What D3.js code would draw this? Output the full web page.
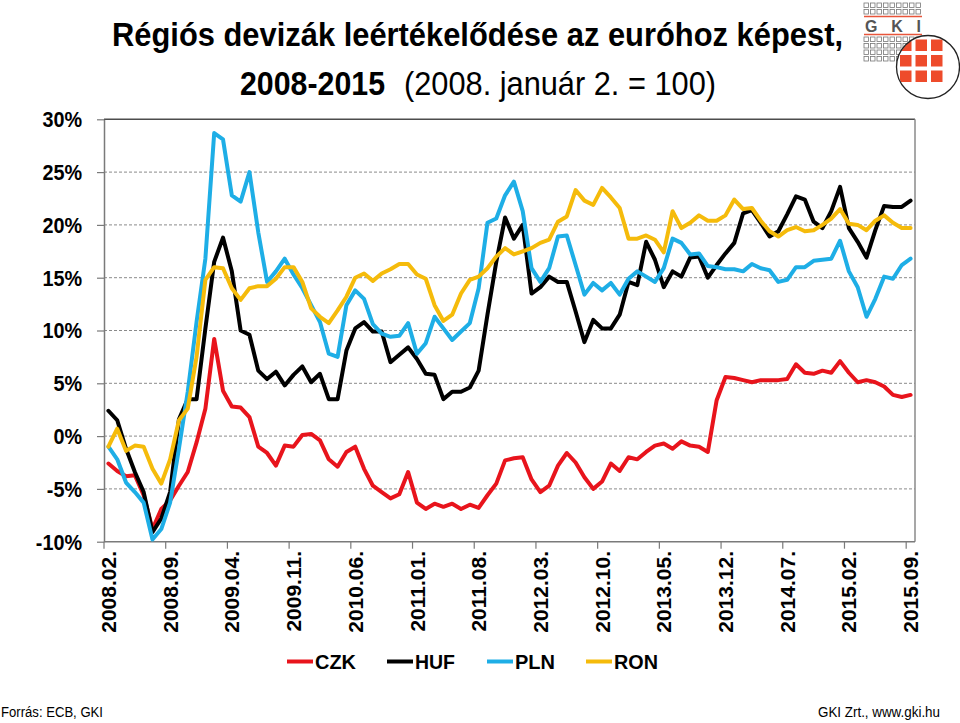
<!DOCTYPE html>
<html><head><meta charset="utf-8">
<script src="https://cdn.jsdelivr.net/npm/d3@7"></script>
<style>body{margin:0;background:#fff} svg{display:block}</style>
</head><body>
<svg id="c" width="960" height="723"></svg>
<script>
const tickLabels = ["2008.02.","2008.09.","2009.04.","2009.11.","2010.06.","2011.01.","2011.08.","2012.03.","2012.10.","2013.05.","2013.12.","2014.07.","2015.02.","2015.09."];
const months = [];
for (let yy = 2008, mm = 2; yy < 2015 || (yy === 2015 && mm <= 9);) {
  months.push(yy + "." + String(mm).padStart(2, "0") + ".");
  mm++; if (mm > 12) { mm = 1; yy++; }
}
const czk = [-2.6,-3.3,-3.8,-3.7,-5.6,-8.8,-6.9,-6.1,-4.7,-3.4,-0.6,2.6,9.2,4.3,2.8,2.7,
  1.8,-1.0,-1.6,-2.8,-0.9,-1.0,0.1,0.2,-0.4,-2.2,-2.9,-1.5,-1.0,-3.1,-4.7,
  -5.3,-5.9,-5.5,-3.4,-6.3,-6.9,-6.4,-6.7,-6.4,-6.9,-6.5,-6.8,-5.6,-4.5,-2.3,-2.1,
  -2.0,-4.1,-5.3,-4.7,-2.8,-1.6,-2.5,-3.9,-5.0,-4.3,-2.6,-3.3,-2.0,-2.2,-1.5,
  -0.9,-0.7,-1.2,-0.5,-0.9,-1.0,-1.5,3.4,5.6,5.5,5.3,5.1,5.3,5.3,5.3,5.4,
  6.8,6.0,5.9,6.2,6.0,7.1,6.0,5.1,5.3,5.1,4.7,3.9,3.7,3.9];
const huf = [2.4,1.5,-1.2,-3.4,-5.3,-9.1,-7.8,-5.3,1.6,3.5,3.5,10.2,16.5,18.8,15.6,10.0,
  9.6,6.2,5.4,6.1,4.8,5.8,6.6,5.1,5.9,3.5,3.5,8.1,10.2,10.8,9.9,
  9.9,7.0,7.7,8.4,7.3,5.9,5.8,3.5,4.2,4.2,4.6,6.2,11.5,16.5,20.7,18.7,
  20.0,13.5,14.1,15.1,14.6,14.6,11.8,8.9,11.0,10.2,10.2,11.5,14.6,14.3,18.4,
  16.7,14.1,15.6,15.1,16.9,17.0,15.0,16.2,17.3,18.3,21.1,21.4,20.2,18.9,19.4,21.0,
  22.7,22.4,20.3,19.7,21.3,23.6,19.7,18.4,16.9,19.5,21.8,21.7,21.7,22.3];
const pln = [-1.0,-2.2,-4.4,-5.3,-6.3,-9.8,-8.8,-6.3,-1.2,4.2,10.8,16.8,28.7,28.1,22.8,22.2,
  25.0,19.3,14.6,15.6,16.8,15.3,14.0,12.4,10.8,7.8,7.5,12.4,13.8,13.0,10.6,
  9.7,9.4,9.5,10.7,7.8,8.8,11.3,10.2,9.1,9.9,10.7,14.0,20.2,20.6,22.8,24.1,
  21.3,15.9,14.6,15.9,18.9,19.0,16.2,13.4,14.5,13.8,14.5,13.4,14.9,15.6,15.1,
  14.6,15.9,18.7,18.3,17.2,17.3,16.1,16.0,15.8,15.8,15.6,16.3,15.9,15.7,14.6,14.8,
  16.0,16.0,16.6,16.7,16.8,18.5,15.6,14.1,11.3,13.0,15.1,14.9,16.2,16.8];
const ron = [-1.0,0.7,-1.4,-0.9,-1.0,-3.1,-4.5,-2.2,1.5,2.6,7.5,14.8,16.0,15.9,14.0,12.9,
  14.0,14.2,14.2,14.9,16.0,16.0,14.6,12.1,11.3,10.7,11.9,13.2,15.0,15.4,14.7,
  15.4,15.8,16.3,16.3,15.3,14.9,12.4,10.9,11.5,13.5,14.8,15.1,15.9,17.0,17.8,17.2,
  17.5,17.8,18.3,18.6,20.3,20.8,23.3,22.3,21.9,23.5,22.6,21.6,18.7,18.7,19.0,
  18.6,17.4,21.3,19.7,20.2,20.9,20.4,20.4,20.9,22.4,21.5,21.6,20.4,19.4,18.9,19.5,
  19.8,19.4,19.5,20.0,20.6,21.5,20.1,20.0,19.5,20.4,20.9,20.2,19.7,19.7];
const seriesNames = ["CZK","HUF","PLN","RON"];
const seriesValues = [czk, huf, pln, ron];
const seriesColors = ["#e8141c","#000000","#1eaee6","#f5bb0b"];
const yTicks = [-10,-5,0,5,10,15,20,25,30];

const svg = d3.select("#c");
svg.append("rect").attr("width",960).attr("height",723).attr("fill","#fff");

const L = 104, R = 915, T = 119.3, B = 541.7;
const x = d3.scaleBand().domain(months).range([L, R]).paddingInner(0).paddingOuter(0);
const bw = x.bandwidth();
const y = d3.scaleLinear().domain([-10, 30]).range([B, T]);

// gridlines
svg.append("g").selectAll("line").data(yTicks.filter(v => v > -10 && v < 30)).join("line")
  .attr("x1", L).attr("x2", R).attr("y1", d => y(d)).attr("y2", d => y(d))
  .attr("stroke", "#8a8a8a").attr("stroke-width", 1).attr("stroke-dasharray", "3,2");

// frame top & right
svg.append("line").attr("x1", L).attr("x2", R).attr("y1", y(30)).attr("y2", y(30))
  .attr("stroke", "#4d4d4d").attr("stroke-width", 1.5);
svg.append("line").attr("x1", R).attr("x2", R).attr("y1", y(30)).attr("y2", y(-10))
  .attr("stroke", "#8a8a8a").attr("stroke-width", 1.5);

// y axis
const yAxis = svg.append("g").attr("transform", `translate(${L},0)`)
  .call(d3.axisLeft(y).tickValues(yTicks).tickSize(7).tickSizeOuter(0).tickFormat(d => d + "%"));
yAxis.select(".domain").attr("stroke", "#7a7a7a").attr("stroke-width", 1.5);
yAxis.selectAll(".tick line").attr("stroke", "#7a7a7a").attr("stroke-width", 1.2);
yAxis.selectAll(".tick text")
  .attr("x", -22 / 0.9).attr("dy", "0.34em")
  .attr("transform", "scale(0.9,1)")
  .attr("font-family", "Liberation Sans, Arial, sans-serif")
  .attr("font-weight", "bold").attr("font-size", 22).attr("fill", "#000");

// x axis
svg.append("line").attr("x1", L).attr("x2", R).attr("y1", B).attr("y2", B)
  .attr("stroke", "#7a7a7a").attr("stroke-width", 1.5);
svg.append("g").selectAll("line").data(tickLabels).join("line")
  .attr("x1", d => x(d)).attr("x2", d => x(d)).attr("y1", B).attr("y2", B + 7)
  .attr("stroke", "#7a7a7a").attr("stroke-width", 1.2);
svg.append("g").selectAll("text").data(tickLabels).join("text")
  .attr("transform", d => `translate(${x(d) + bw / 2},551) rotate(-90)`)
  .attr("text-anchor", "end").attr("dy", "0.36em")
  .attr("font-family", "Liberation Sans, Arial, sans-serif")
  .attr("font-weight", "bold").attr("font-size", 21).attr("fill", "#000")
  .text(d => d);

// lines
const line = d3.line().x((d, i) => x(months[i]) + bw / 2).y(d => y(d)).curve(d3.curveLinear);
svg.append("g").selectAll("path").data(seriesValues).join("path")
  .attr("d", d => line(d)).attr("fill", "none")
  .attr("stroke", (d, i) => seriesColors[i]).attr("stroke-width", 4)
  .attr("stroke-linejoin", "round").attr("stroke-linecap", "round");

// legend
const legendX = [287, 387, 487, 586];
const legendTextLen = [41, 40, 40, 44];
const lg = svg.append("g").selectAll("g").data(seriesNames).join("g")
  .attr("transform", (d, i) => `translate(${legendX[i]},661.5)`);
lg.append("line").attr("x1", 0).attr("x2", 26).attr("y1", 0).attr("y2", 0)
  .attr("stroke", (d, i) => seriesColors[i]).attr("stroke-width", 4);
lg.append("text").attr("x", 28).attr("dy", "0.36em")
  .attr("textLength", (d, i) => legendTextLen[i]).attr("lengthAdjust", "spacingAndGlyphs")
  .attr("font-family", "Liberation Sans, Arial, sans-serif")
  .attr("font-weight", "bold").attr("font-size", 21).attr("fill", "#000")
  .text(d => d);

// title
const tf = "Liberation Sans, Arial, sans-serif";
svg.append("text").attr("transform", "translate(112,46) scale(1,1.1)").attr("textLength", 731).attr("lengthAdjust", "spacingAndGlyphs")
  .attr("font-family", tf).attr("font-weight", "bold").attr("font-size", 31).attr("fill", "#000")
  .text("Régiós devizák leértékelődése az euróhoz képest,");
svg.append("text").attr("transform", "translate(240,95) scale(1,1.1)").attr("textLength", 145).attr("lengthAdjust", "spacingAndGlyphs")
  .attr("font-family", tf).attr("font-weight", "bold").attr("font-size", 31).attr("fill", "#000")
  .text("2008-2015");
svg.append("text").attr("transform", "translate(404,95) scale(1,1.1)").attr("textLength", 312).attr("lengthAdjust", "spacingAndGlyphs")
  .attr("font-family", tf).attr("font-size", 31).attr("fill", "#000")
  .text("(2008. január 2. = 100)");

// footer
svg.append("text").attr("x", 1).attr("y", 717).attr("textLength", 102).attr("lengthAdjust", "spacingAndGlyphs")
  .attr("font-family", tf).attr("font-size", 14).attr("fill", "#000").text("Forrás: ECB, GKI");
svg.append("text").attr("x", 818).attr("y", 717).attr("textLength", 122).attr("lengthAdjust", "spacingAndGlyphs")
  .attr("font-family", tf).attr("font-size", 14).attr("fill", "#000").text("GKI Zrt., www.gki.hu");

// logo
const logo = svg.append("g");
const sqCols = d3.range(9).map(k => 864 + k * 6.5);
[3, 9.5, 37, 43.5, 50, 56.5].forEach(ry => {
  logo.append("g").selectAll("rect").data(sqCols).join("rect")
    .attr("x", d => d).attr("y", ry).attr("width", 4.5).attr("height", 4.5)
    .attr("fill", "none").attr("stroke", "#777").attr("stroke-width", 0.8);
});
logo.append("line").attr("x1", 864).attr("x2", 922).attr("y1", 16.5).attr("y2", 16.5).attr("stroke", "#e8553b").attr("stroke-width", 1.6);
logo.append("line").attr("x1", 864).attr("x2", 922).attr("y1", 34.5).attr("y2", 34.5).attr("stroke", "#e8553b").attr("stroke-width", 1.6);
logo.append("text").attr("x", 865).attr("y", 32).attr("textLength", 56).attr("lengthAdjust", "spacing")
  .attr("font-family", tf).attr("font-weight", "bold").attr("font-size", 16).attr("fill", "#555").text("G K I");
const defs = svg.append("defs");
defs.append("clipPath").attr("id", "lc").append("circle").attr("cx", 928).attr("cy", 67).attr("r", 31);
logo.append("circle").attr("cx", 928).attr("cy", 67).attr("r", 31.5).attr("fill", "#fff");
const rs = logo.append("g").attr("clip-path", "url(#lc)");
[900, 915.5, 931].forEach(cx => [39.5, 55, 70.5].forEach(cy => {
  rs.append("rect").attr("x", cx).attr("y", cy).attr("width", 11.5).attr("height", 11.5).attr("fill", "#ee4b2b");
}));
logo.append("circle").attr("cx", 928).attr("cy", 67).attr("r", 31.5).attr("fill", "none").attr("stroke", "#222").attr("stroke-width", 1.3);
</script>
</body></html>
